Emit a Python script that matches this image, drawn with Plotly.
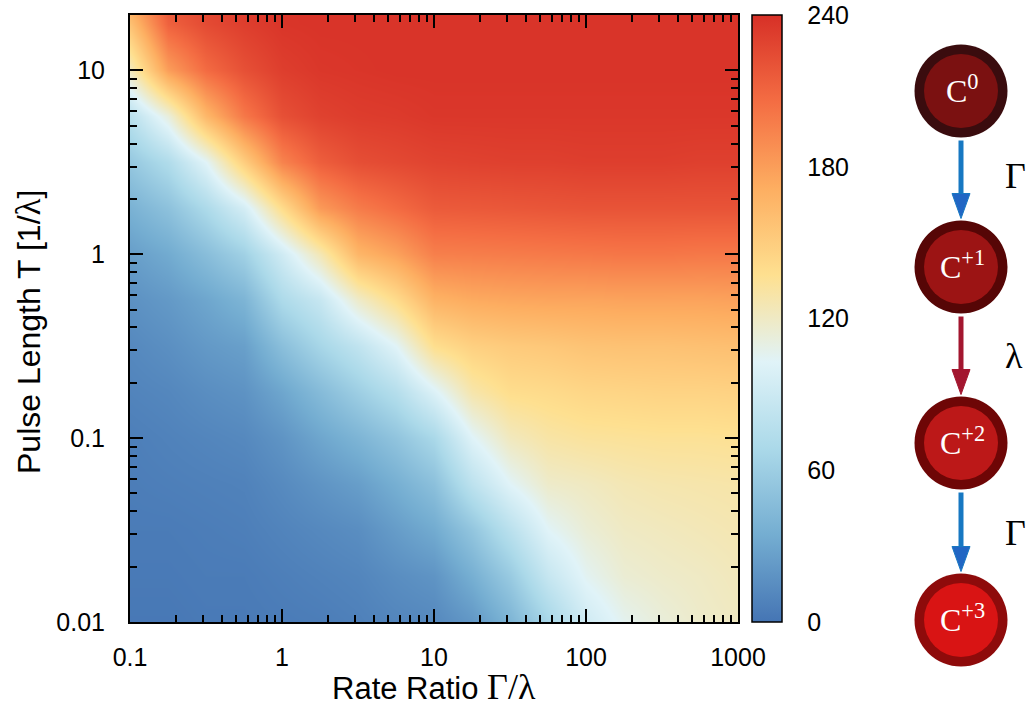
import plotly.graph_objects as go

# Grid of the heat map: rate ratio Γ/λ (columns) and pulse length T in 1/λ (rows)
rate_ratio = [0.1, 0.178, 0.316, 0.562, 1, 1.78, 3.16, 5.62, 10, 17.8, 31.6,
              56.2, 100, 178, 316, 562, 1000]
pulse_length = [0.01, 0.0178, 0.0316, 0.0562, 0.1, 0.178, 0.316, 0.562, 1,
                1.78, 3.16, 5.62, 10, 17.8, 31.6]

# One column per rate ratio, values listed from the shortest to the longest pulse
signal_by_ratio = [
    [2, 3, 4, 5, 6, 9, 12, 17, 25, 38, 55, 78, 122, 158, 195],
    [2, 3, 4, 6, 8, 11, 16, 22, 33, 50, 72, 112, 180, 212, 228],
    [3, 4, 5, 7, 10, 15, 22, 30, 47, 70, 103, 165, 207, 225, 232],
    [3, 4, 6, 8, 12, 18, 26, 40, 62, 95, 150, 200, 222, 232, 237],
    [4, 6, 9, 13, 19, 30, 48, 70, 92, 140, 194, 222, 232, 237, 238],
    [5, 8, 12, 19, 30, 45, 66, 86, 125, 182, 214, 230, 236, 238, 238],
    [7, 10, 15, 25, 40, 60, 82, 118, 166, 198, 223, 233, 237, 238, 238],
    [10, 15, 24, 36, 52, 75, 103, 140, 178, 207, 226, 234, 238, 238, 238],
    [12, 19, 33, 49, 68, 100, 138, 168, 196, 216, 229, 236, 238, 238, 238],
    [21, 36, 53, 80, 102, 128, 148, 173, 197, 217, 230, 236, 238, 238, 238],
    [40, 57, 78, 103, 122, 139, 152, 175, 198, 218, 231, 236, 238, 238, 238],
    [66, 86, 103, 118, 130, 141, 154, 176, 199, 219, 231, 236, 238, 238, 238],
    [92, 105, 114, 121, 133, 144, 157, 176, 200, 220, 232, 236, 238, 238, 238],
    [106, 115, 120, 125, 134, 145, 158, 177, 201, 220, 232, 236, 238, 238, 238],
    [113, 118, 122, 127, 135, 146, 158, 177, 201, 220, 232, 236, 238, 238, 238],
    [118, 120, 124, 128, 135, 146, 159, 177, 200, 220, 231, 236, 238, 238, 238],
    [121, 123, 126, 129, 136, 147, 160, 178, 200, 220, 231, 236, 238, 238, 238],
]

x_tick_vals = [0.1, 1, 10, 100, 1000]
x_tick_text = ["0.1", "1", "10", "100", "1000"]
y_tick_vals = [0.01, 0.1, 1, 10]
y_tick_text = ["0.01", "0.1", "1", "10"]
cbar_tick_vals = [0, 60, 120, 180, 240]

# Charge-state ladder drawn beside the colour bar
species = ["C<sup>0</sup>", "C<sup>+1</sup>", "C<sup>+2</sup>", "C<sup>+3</sup>"]
rate_labels = ["Γ", "λ", "Γ"]

# RdYlBu palette (eight stops, no central white)
palette = ["#4575B4", "#74ADD1", "#ABD9E9", "#E0F3F8",
           "#FEE090", "#FDAE61", "#F46D43", "#D73027"]
colorscale = [[i / (len(palette) - 1), c] for i, c in enumerate(palette)]

z = [[col[j] for col in signal_by_ratio] for j in range(len(pulse_length))]

W, H = 1026, 710
L, R, T, B = 130, 288, 15, 88
PW, PH = W - L - R, H - T - B


def px(p):
    return (p - L) / PW


def py(p):
    return (H - B - p) / PH


SANS = "Liberation Sans"
SERIF = "Liberation Serif"

fig = go.Figure(
    go.Heatmap(
        x=rate_ratio, y=pulse_length, z=z, zsmooth="best",
        colorscale=colorscale, zmin=0, zmax=240,
        colorbar=dict(
            x=px(752), xanchor="left", xpad=0,
            y=0, yanchor="bottom", ypad=0,
            len=1, lenmode="fraction",
            thickness=30, thicknessmode="pixels",
            outlinewidth=1.5, outlinecolor="black",
            tickvals=cbar_tick_vals, ticks="outside", ticklen=20,
            tickcolor="rgba(0,0,0,0)",
            tickfont=dict(family=SANS, size=25, color="black"),
        ),
        hoverinfo="skip",
    )
)

axis_common = dict(
    type="log", ticks="inside", ticklen=13, tickwidth=1.5, tickcolor="black",
    minor=dict(ticks="inside", ticklen=7, tickwidth=1.5, tickcolor="black",
               dtick="D1", showgrid=False),
    showline=True, linewidth=2, linecolor="black", mirror="ticks",
    showgrid=False, zeroline=False,
    tickfont=dict(family=SANS, size=25, color="black"),
)
fig.update_xaxes(range=[-1, 3], tickvals=x_tick_vals, ticktext=x_tick_text,
                 ticklabelstandoff=12, **axis_common)
fig.update_yaxes(range=[-2, 1.30103], tickvals=y_tick_vals, ticktext=y_tick_text,
                 ticklabelstandoff=18, **axis_common)

shapes = []
annotations = []

# Tick marks on both sides of the colour bar
bar_x0, bar_x1 = px(752), px(782)
for v in cbar_tick_vals[1:-1]:
    yy = v / 240
    shapes.append(dict(type="line", xref="paper", yref="paper",
                       x0=bar_x0, x1=px(763), y0=yy, y1=yy,
                       line=dict(color="black", width=1.5)))
    shapes.append(dict(type="line", xref="paper", yref="paper",
                       x0=px(771), x1=bar_x1, y0=yy, y1=yy,
                       line=dict(color="black", width=1.5)))

# Axis titles
annotations.append(dict(
    xref="paper", yref="paper", x=px(434), y=py(687), showarrow=False,
    xanchor="center", yanchor="middle",
    text="Rate Ratio <span style='font-family:Liberation Serif;font-size:36px'>Γ/λ</span>",
    font=dict(family=SANS, size=31, color="black")))
annotations.append(dict(
    xref="paper", yref="paper", x=px(29), y=py(332), showarrow=False,
    xanchor="center", yanchor="middle", textangle=-90,
    text="Pulse Length T [1/<span style='font-family:Liberation Serif;font-size:35px'>λ</span>]",
    font=dict(family=SANS, size=32, color="black")))

# Ladder of charge states
cx = 961
centers = [91, 267, 443, 620]
outer_colors = ["#3A0C0E", "#560606", "#6E0606", "#8E0B0B"]
inner_colors = ["#7B1111", "#9C1414", "#BC1818", "#D91414"]
r_out, r_in = 46.5, 37
for cy, name, oc, ic in zip(centers, species, outer_colors, inner_colors):
    shapes.append(dict(type="circle", xref="paper", yref="paper",
                       x0=px(cx - r_out), x1=px(cx + r_out),
                       y0=py(cy + r_out), y1=py(cy - r_out),
                       fillcolor=oc, line=dict(width=0)))
    shapes.append(dict(type="circle", xref="paper", yref="paper",
                       x0=px(cx - r_in), x1=px(cx + r_in),
                       y0=py(cy + r_in), y1=py(cy - r_in),
                       fillcolor=ic, line=dict(width=0)))
    annotations.append(dict(xref="paper", yref="paper", x=px(cx + 1), y=py(cy - 2),
                            showarrow=False, xanchor="center", yanchor="middle",
                            text=name, font=dict(family=SERIF, size=32, color="white")))

arrow_colors = ["#1778C2", "#A3162F", "#1778C2"]
head_colors = ["#2166C4", "#A3162F", "#2166C4"]
label_y = [176, 356, 533]
for k, (lab, col, hcol) in enumerate(zip(rate_labels, arrow_colors, head_colors)):
    top = centers[k] + r_out + 3
    tip = centers[k + 1] - r_out - 2
    neck = tip - 25
    shapes.append(dict(type="line", xref="paper", yref="paper",
                       x0=px(cx), x1=px(cx), y0=py(top), y1=py(neck + 2),
                       line=dict(color=col, width=5)))
    shapes.append(dict(type="path", xref="paper", yref="paper",
                       path=f"M {px(cx - 9)} {py(neck)} L {px(cx + 9)} {py(neck)} "
                            f"L {px(cx)} {py(tip)} Z",
                       fillcolor=hcol, line=dict(color=col, width=1)))
    annotations.append(dict(xref="paper", yref="paper", x=px(1003), y=py(label_y[k]),
                            showarrow=False, xanchor="left", yanchor="middle",
                            text=lab, font=dict(family=SERIF, size=36, color="black")))

fig.update_layout(
    width=W, height=H,
    margin=dict(l=L, r=R, t=T, b=B, autoexpand=False),
    paper_bgcolor="white", plot_bgcolor="white",
    shapes=shapes, annotations=annotations,
    showlegend=False,
)

fig.write_html("out.html")
